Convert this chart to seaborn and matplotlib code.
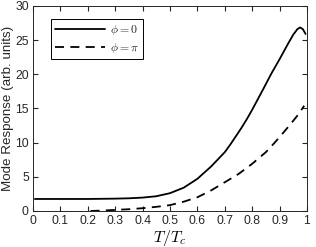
# -*- coding: utf-8 -*-
import numpy as np
import pandas as pd
import matplotlib
matplotlib.use('Agg')
import matplotlib.pyplot as plt
import seaborn as sns

# 数据
t_phi0 = [0.007, 0.1, 0.2, 0.3, 0.35, 0.4, 0.45, 0.5, 0.55, 0.6, 0.65, 0.7,
          0.72, 0.74, 0.76, 0.78, 0.8, 0.82, 0.84, 0.87, 0.9, 0.93, 0.95,
          0.965, 0.975, 0.985, 0.995]
resp_phi0 = [1.75, 1.75, 1.75, 1.8, 1.85, 1.95, 2.15, 2.6, 3.4, 4.7, 6.5, 8.6,
             9.7, 10.9, 12.1, 13.4, 14.8, 16.3, 17.8, 20.1, 22.2, 24.4, 25.8,
             26.6, 26.85, 26.6, 25.9]

t_phipi = [0.21, 0.25, 0.3, 0.35, 0.4, 0.45, 0.5, 0.55, 0.6, 0.65, 0.7, 0.75,
           0.8, 0.85, 0.88, 0.9, 0.94, 0.97, 0.99]
resp_phipi = [0.0, 0.05, 0.15, 0.25, 0.4, 0.6, 0.85, 1.35, 2.0, 3.0, 4.2, 5.4,
              6.9, 8.6, 9.9, 10.8, 12.7, 14.2, 15.4]

x_ticks = [0, 0.1, 0.2, 0.3, 0.4, 0.5, 0.6, 0.7, 0.8, 0.9, 1]
x_tick_labels = ['0', '0.1', '0.2', '0.3', '0.4', '0.5', '0.6', '0.7', '0.8', '0.9', '1']
y_ticks = [0, 5, 10, 15, 20, 25, 30]

sns.set_style('ticks')
plt.rcParams['font.family'] = ['Liberation Sans', 'DejaVu Sans']
plt.rcParams['mathtext.fontset'] = 'cm'
ink = '#262626'

fig = plt.figure(figsize=(3.16, 2.47), dpi=100)
ax = fig.add_axes([0.1044, 0.146, 0.867, 0.830])

df0 = pd.DataFrame({'T': t_phi0, 'R': resp_phi0})
dfp = pd.DataFrame({'T': t_phipi, 'R': resp_phipi})
sns.lineplot(data=df0, x='T', y='R', ax=ax, color='black', lw=1.3,
             label=r'$\phi = 0$', sort=False)
sns.lineplot(data=dfp, x='T', y='R', ax=ax, color='black', lw=1.3,
             linestyle=(0, (5, 3.5)), label=r'$\phi = \pi$', sort=False)

ax.set_xlim(0, 1)
ax.set_ylim(0, 30)
ax.set_xticks(x_ticks)
ax.set_xticklabels(x_tick_labels)
ax.set_yticks(y_ticks)
ax.tick_params(direction='in', top=True, right=True, length=3.5, width=0.8,
               labelsize=8.8, colors=ink, pad=3)
for s in ax.spines.values():
    s.set_color(ink)
    s.set_linewidth(0.7)

ax.set_xlabel(r'$T/T_c$', fontsize=11.5, color='black', labelpad=1)
ax.set_ylabel('Mode Response (arb. units)', fontsize=9.6, color=ink, labelpad=1)

leg = ax.legend(loc='upper left', bbox_to_anchor=(0.045, 0.965), fancybox=False,
                edgecolor='black', framealpha=1, fontsize=8.5, handlelength=4.2,
                handletextpad=0.4, borderpad=0.35, labelspacing=0.35)
leg.get_frame().set_linewidth(0.7)

fig.savefig('out.png', dpi=100)
